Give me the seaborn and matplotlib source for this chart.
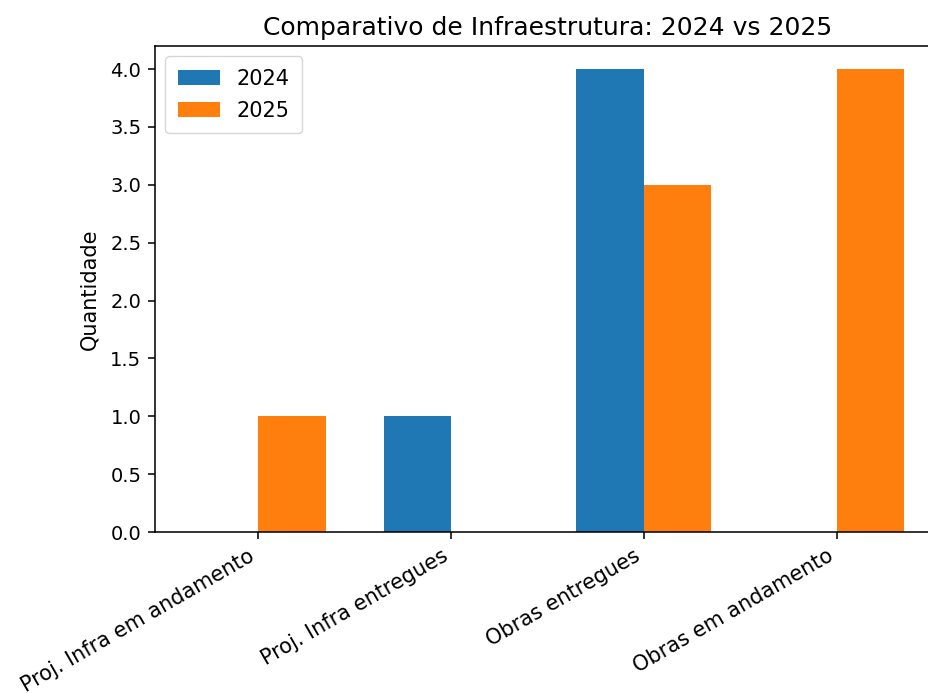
import pandas as pd
import numpy as np
import matplotlib
matplotlib.use('Agg')
import matplotlib.pyplot as plt
import seaborn as sns

# Dados
categorias = ['Proj. Infra em andamento', 'Proj. Infra entregues', 'Obras entregues', 'Obras em andamento']
valores_2024 = [0, 1, 4, 0]
valores_2025 = [1, 0, 3, 4]
anos = ['2024', '2025']
cores = ['#1f77b4', '#ff7f0e']

df = pd.DataFrame({
    'Categoria': categorias * 2,
    'Ano': [anos[0]] * len(categorias) + [anos[1]] * len(categorias),
    'Quantidade': valores_2024 + valores_2025,
})

escala = 1.40  # tamanho do texto na captura

fig = plt.figure(figsize=(9.29, 6.93), dpi=100)
ax = fig.add_axes([155 / 929, 161 / 693, 785 / 929, 486 / 693])

sns.barplot(data=df, x='Categoria', y='Quantidade', hue='Ano', hue_order=anos,
            order=categorias, palette=cores, saturation=1, width=0.7,
            errorbar=None, linewidth=0, ax=ax)

ax.set_xlim(-0.535, 3.535)
ax.set_ylim(0, 4.2)
ax.set_xlabel('')
ax.set_ylabel('Quantidade', fontsize=15, labelpad=8)
ax.set_title('Comparativo de Infraestrutura: 2024 vs 2025', fontsize=18, pad=8)
ax.tick_params(axis='both', length=3.5 * escala, width=0.8 * escala, pad=3.5 * escala)
ax.tick_params(axis='y', labelsize=14)
ax.tick_params(axis='x', labelsize=15)
for s in ax.spines.values():
    s.set_linewidth(0.8 * escala)
plt.setp(ax.get_xticklabels(), rotation=30, ha='right')
ax.legend(loc='upper left', fontsize=15, title=None, borderpad=0.6, labelspacing=0.58)

fig.savefig('out.png', dpi=100)
